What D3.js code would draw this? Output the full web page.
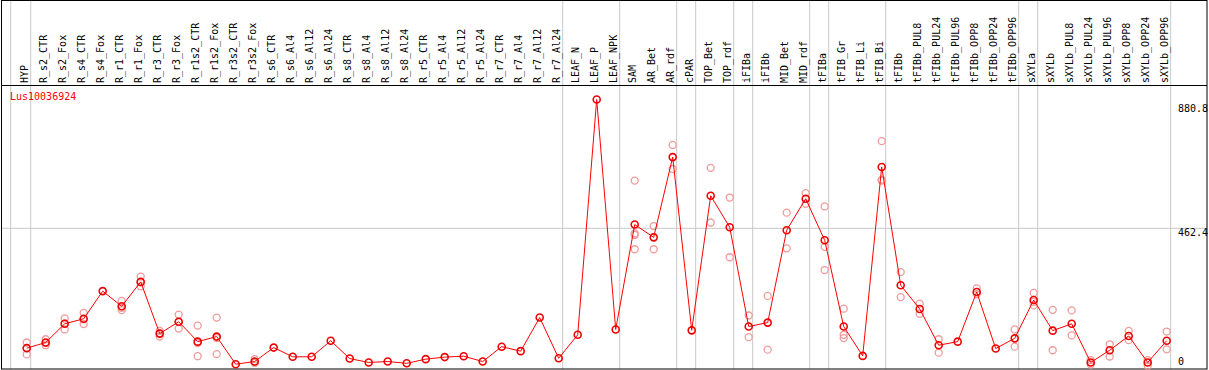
<!DOCTYPE html>
<html>
<head>
<meta charset="utf-8">
<script src="https://cdn.jsdelivr.net/npm/d3@7"></script>
<style>
body { margin: 0; background: #fff; }
svg { display: block; }
text { font-family: "DejaVu Sans Mono", monospace; font-size: 10px; }
</style>
</head>
<body>
<div id="chart"></div>
<script>
// Data
const geneName = "Lus10036924";

const samples = ["HYP", "R_s2_CTR", "R_s2_Fox", "R_s4_CTR", "R_s4_Fox", "R_r1_CTR", "R_r1_Fox",
  "R_r3_CTR", "R_r3_Fox", "R_r1s2_CTR", "R_r1s2_Fox", "R_r3s2_CTR", "R_r3s2_Fox",
  "R_s6_CTR", "R_s6_Al4", "R_s6_Al12", "R_s6_Al24", "R_s8_CTR", "R_s8_Al4", "R_s8_Al12", "R_s8_Al24",
  "R_r5_CTR", "R_r5_Al4", "R_r5_Al12", "R_r5_Al24", "R_r7_CTR", "R_r7_Al4", "R_r7_Al12", "R_r7_Al24",
  "LEAF_N", "LEAF_P", "LEAF_NPK", "SAM", "AR_Bet", "AR_rdf", "cPAR", "TOP_Bet", "TOP_rdf",
  "iFIBa", "iFIBb", "MID_Bet", "MID_rdf", "tFIBa", "tFIB_Gr", "tFIB_Li", "tFIB_Bi", "tFIBb",
  "tFIBb_PUL8", "tFIBb_PUL24", "tFIBb_PUL96", "tFIBb_OPP8", "tFIBb_OPP24", "tFIBb_OPP96",
  "sXYLa", "sXYLb", "sXYLb_PUL8", "sXYLb_PUL24", "sXYLb_PUL96", "sXYLb_OPP8", "sXYLb_OPP24", "sXYLb_OPP96"];

const means = [59, 78, 141, 158, 251, 200, 282, 108, 148, 81, 98, 5, 14,
  61, 30, 30, 84, 24, 11, 14, 8, 22, 29, 32, 14, 64, 49, 162, 25,
  104, 896, 122, 475, 432, 702, 119, 572, 466,
  132, 145, 456, 562, 422, 132, 33, 669, 271,
  191, 69, 81, 248, 58, 92,
  221, 118, 141, 11, 52, 100, 11, 84];

const replicates = [[78, 60, 38], [89, 69, 76], [159, 122, 142], [178, 140, 156], [], [218, 187, 195],
  [300, 267, 281], [117, 98, 109], [172, 125, 147], [135, 32, 76], [162, 39, 93], [], [22, 10, 11],
  [], [], [], [], [], [], [], [], [], [], [], [], [], [], [], [],
  [], [], [], [623, 445, 440, 392], [470, 392], [743, 662], [], [666, 482], [566, 365],
  [169, 96], [235, 54], [515, 395], [581, 545], [536, 400, 322], [192, 104, 93], [], [756, 626, 623], [315, 231],
  [209, 175], [89, 44], [], [260, 241], [], [122, 64],
  [245, 215, 203], [188, 52], [186, 102], [19, 4], [72, 31], [117, 86], [19, 0], [115, 55]];

// indices of samples followed by a group separator
const groupEnds = [0, 28, 31, 34, 35, 37, 38, 41, 42, 45, 52, 53, 60];
const yTicks = [880.8, 462.4, 0];

// Dimensions
const width = 1209;
const height = 370;
const headerBottom = 85.5;
const plotBottom = 369;

const svg = d3.select("#chart")
  .append("svg")
  .attr("width", width)
  .attr("height", height);

// Scales
const xScale = d3.scalePoint()
  .domain(samples)
  .range([26.7, 1166.7]);

const yScale = d3.scaleLinear()
  .domain([0, 880.8])
  .range([365.7, 104]);

// Grid lines
svg.append("line")
  .attr("x1", xScale(samples[0]) - 16).attr("x2", xScale(samples[0]) - 16)
  .attr("y1", 0).attr("y2", plotBottom)
  .attr("stroke", "#c8c8c8");

svg.selectAll(".vgrid")
  .data(groupEnds)
  .enter()
  .append("line")
  .attr("class", "vgrid")
  .attr("x1", d => xScale(samples[d]) + 4)
  .attr("x2", d => xScale(samples[d]) + 4)
  .attr("y1", 0)
  .attr("y2", plotBottom)
  .attr("stroke", "#c8c8c8");

svg.append("line")
  .attr("x1", 1).attr("x2", 1207)
  .attr("y1", yScale(462.4)).attr("y2", yScale(462.4))
  .attr("stroke", "#c8c8c8");

// Frame
svg.append("rect")
  .attr("x", 1.5).attr("y", 0.5)
  .attr("width", 1205.5).attr("height", plotBottom - 0.5)
  .attr("fill", "none")
  .attr("stroke", "#000");

svg.append("line")
  .attr("x1", 1).attr("x2", 1207)
  .attr("y1", headerBottom).attr("y2", headerBottom)
  .attr("stroke", "#000");

// Sample labels (vertical)
svg.selectAll(".slabel")
  .data(samples)
  .enter()
  .append("text")
  .attr("class", "slabel")
  .attr("transform", d => `translate(${xScale(d) + 1},83) rotate(-90)`)
  .attr("fill", "#000")
  .text(d => d);

// Gene name
svg.append("text")
  .attr("x", 10)
  .attr("y", 99.5)
  .attr("fill", "#ff0000")
  .text(geneName);

// Right axis labels
svg.selectAll(".ytick")
  .data(yTicks)
  .enter()
  .append("text")
  .attr("class", "ytick")
  .attr("x", 1178)
  .attr("y", d => d === 0 ? yScale(d) - 0.5 : yScale(d) + 8)
  .attr("fill", "#000")
  .text(d => d);

// Replicate points
const reps = samples.flatMap((s, i) => replicates[i].map(v => ({ sample: s, value: v })));

svg.selectAll(".rep")
  .data(reps)
  .enter()
  .append("circle")
  .attr("class", "rep")
  .attr("cx", d => xScale(d.sample))
  .attr("cy", d => yScale(d.value))
  .attr("r", 3.5)
  .attr("fill", "none")
  .attr("stroke", "#f09a9a")
  .attr("stroke-width", 1.3);

// Mean line
const meanData = samples.map((s, i) => ({ sample: s, value: means[i] }));

const line = d3.line()
  .x(d => xScale(d.sample))
  .y(d => yScale(d.value));

svg.append("path")
  .datum(meanData)
  .attr("d", line)
  .attr("fill", "none")
  .attr("stroke", "#ff0000")
  .attr("stroke-width", 1);

svg.selectAll(".dot")
  .data(meanData)
  .enter()
  .append("circle")
  .attr("class", "dot")
  .attr("cx", d => xScale(d.sample))
  .attr("cy", d => yScale(d.value))
  .attr("r", 3.5)
  .attr("fill", "none")
  .attr("stroke", "#ee0000")
  .attr("stroke-width", 1.6);
</script>
</body>
</html>
